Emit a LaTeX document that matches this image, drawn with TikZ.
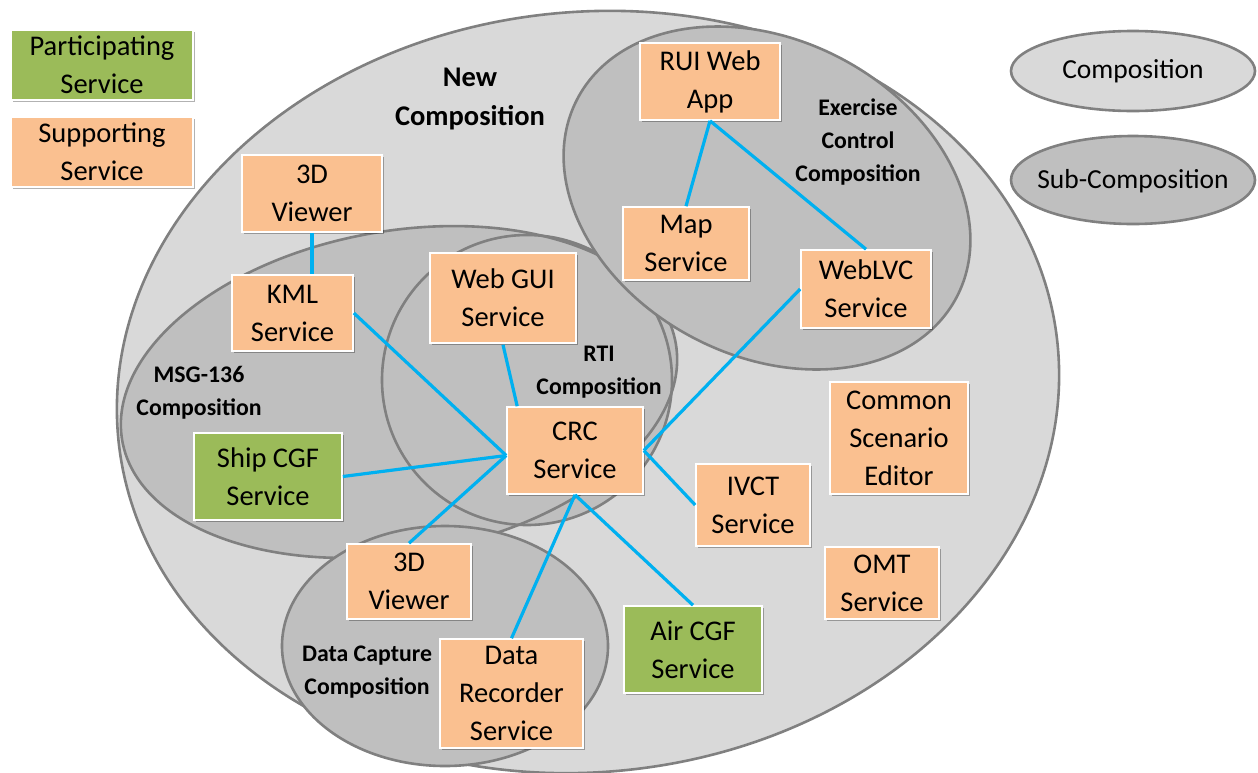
\documentclass[tikz,border=0pt]{standalone}
\usepackage{fontspec}
\setmainfont{Carlito}
\usetikzlibrary{shadows,calc}
\definecolor{compfill}{HTML}{D9D9D9}
\definecolor{subfill}{HTML}{BFBFBF}
\definecolor{edgegray}{HTML}{808080}
\definecolor{supp}{HTML}{FAC090}
\definecolor{part}{HTML}{9BBB59}
\definecolor{link}{HTML}{00B0F0}
\tikzset{
  comp/.style={fill=compfill,draw=edgegray,line width=2.6pt},
  subcomp/.style={fill=subfill,draw=edgegray,line width=2.6pt},
  subfillonly/.style={fill=subfill},
  edgeonly/.style={draw=edgegray,line width=2.6pt},
  svcbox/.style={draw=white,line width=1.6pt,align=center,inner sep=0pt,
    font=\fontsize{28.5}{38}\selectfont,
    drop shadow={shadow xshift=1.5pt,shadow yshift=-2pt,opacity=0.3,fill=black}},
  suppbox/.style={svcbox,fill=supp},
  partbox/.style={svcbox,fill=part},
  lbl/.style={align=center,font=\bfseries\fontsize{23.8}{33}\selectfont,inner sep=0pt},
  biglbl/.style={align=center,font=\bfseries\fontsize{28.5}{39}\selectfont,inner sep=0pt},
  legtxt/.style={align=center,font=\fontsize{27.5}{38}\selectfont,inner sep=0pt},
  conn/.style={draw=link,line width=3.2pt}
}
\begin{document}
\begin{tikzpicture}[x=1pt,y=-1pt]
\useasboundingbox (0,0) rectangle (1258,772);
% compositions
\draw[comp,rotate around={6:(588,392)}] (588,392) ellipse (472 and 380);
\fill[subfillonly,rotate around={10:(399,392)}] (399,392) ellipse (281 and 161);
\fill[subfillonly] (527,380) circle (145);
\draw[edgeonly,rotate around={10:(399,392)}] (399,392) ellipse (281 and 161);
\draw[edgeonly] (527,380) circle (145);
\draw[subcomp,rotate around={-27.5:(767,198)}] (767,198) ellipse (214 and 158);
\draw[subcomp] (445,646) ellipse (163 and 120);
% legend ellipses
\draw[comp] (1133,71) ellipse (122 and 40);
\node[legtxt] (legcomp) at (1133,71) {Composition};
\draw[subcomp] (1133,180) ellipse (122 and 44);
\node[legtxt] (legsub) at (1133,181) {Sub-Composition};
% labels
\node[biglbl] (newcomp) at (470,99) {New\\Composition};
\node[lbl] (exlbl) at (858,142) {Exercise\\Control\\Composition};
\node[lbl] (rtilbl) at (599,372) {RTI\\Composition};
\node[lbl] (msglbl) at (199,393) {MSG-136\\Composition};
\node[lbl] (dclbl) at (367,672) {Data Capture\\Composition};
% legend boxes
\node[partbox,minimum width=182,minimum height=70] (partleg) at (102,65) {Participating\\Service};
\node[suppbox,minimum width=182,minimum height=70] (suppleg) at (102,152) {Supporting\\Service};
% service boxes
\node[suppbox,minimum width=140,minimum height=77] (rui) at (710,81.5) {RUI Web\\App};
\node[suppbox,minimum width=126,minimum height=73] (map) at (686,243.5) {Map\\Service};
\node[suppbox,minimum width=130,minimum height=78] (weblvc) at (866,289) {WebLVC\\Service};
\node[suppbox,minimum width=140,minimum height=77] (viewa) at (312,193.5) {3D\\Viewer};
\node[suppbox,minimum width=121,minimum height=76] (kml) at (292.5,313) {KML\\Service};
\node[suppbox,minimum width=146,minimum height=90] (webgui) at (503,298) {Web GUI\\Service};
\node[suppbox,minimum width=136,minimum height=87] (crc) at (575,450.5) {CRC\\Service};
\node[partbox,minimum width=148,minimum height=87] (ship) at (268,476.5) {Ship CGF\\Service};
\node[suppbox,minimum width=124,minimum height=75] (viewb) at (409,581.5) {3D\\Viewer};
\node[suppbox,minimum width=143,minimum height=109] (rec) at (511.5,693.5) {Data\\Recorder\\Service};
\node[suppbox,minimum width=114,minimum height=82] (ivct) at (753,505) {IVCT\\Service};
\node[suppbox,minimum width=138,minimum height=112] (cse) at (899,438) {Common\\Scenario\\Editor};
\node[suppbox,minimum width=114,minimum height=72] (omt) at (882,583) {OMT\\Service};
\node[partbox,minimum width=138,minimum height=87] (air) at (693,649.5) {Air CGF\\Service};
% connectors
\coordinate (crcL) at ($(crc.west)+(0,5)$);
\coordinate (crcT) at ($(crc.north west)+(11,0)$);
\draw[conn] (viewa.south) -- (viewa.south |- kml.north);
\draw[conn] (kml.east) -- (crcL);
\draw[conn] (ship.east) -- (crcL);
\draw[conn] (viewb.north) -- (crcL);
\draw[conn] ($(webgui.south)+(0,1)$) -- (crcT);
\draw[conn] (crc.east) -- (weblvc.west);
\draw[conn] (crc.east) -- (ivct.west);
\draw[conn] (crc.south) -- (rec.north);
\draw[conn] (crc.south) -- (air.north);
\draw[conn] (rui.south) -- (map.north);
\draw[conn] (rui.south) -- (weblvc.north);
\end{tikzpicture}
\end{document}
